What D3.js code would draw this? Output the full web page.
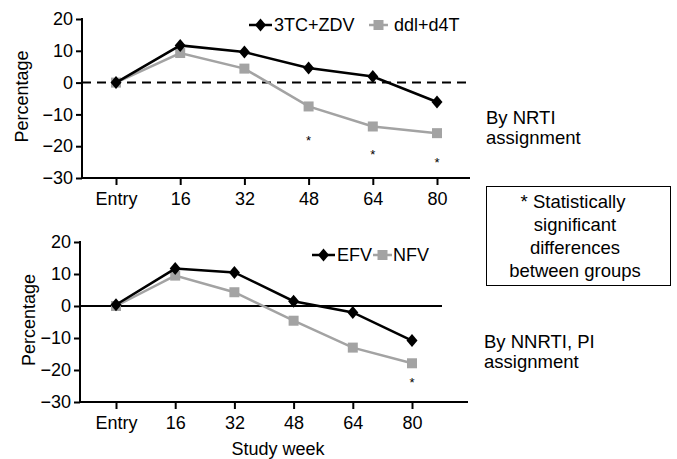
<!DOCTYPE html>
<html>
<head>
<meta charset="utf-8">
<script src="https://cdn.jsdelivr.net/npm/d3@7"></script>
<style>
  body { margin: 0; background: #fff; }
  svg text { font-family: "Liberation Sans", Arial, sans-serif; fill: #000; }
</style>
</head>
<body>
<svg id="chart" width="677" height="459"></svg>
<script>
// categories (study week)
var weeks = ['Entry', '16', '32', '48', '64', '80']
var yTicks = [20, 10, 0, -10, -20, -30]

// top panel: by NRTI assignment
var zdvValues = [0, 11.7, 9.6, 4.6, 1.9, -6.1]
var d4tValues = [0, 9.3, 4.4, -7.5, -13.8, -15.9]
var topStars = [['48', -16.8], ['64', -21.3], ['80', -23.6]]

// bottom panel: by NNRTI, PI assignment
var efvValues = [0.4, 11.7, 10.5, 1.5, -2.0, -10.8]
var nfvValues = [0, 9.5, 4.3, -4.6, -13.0, -17.9]
var bottomStars = [['80', -22.6]]

var black = '#000'
var grey = '#a3a3a3'
var fs = '18px'
var svg = d3.select('#chart')

function drawPanel (p) {
  var g = svg.append('g')
  var x = d3.scalePoint().domain(weeks).range(p.xRange)
  var y = d3.scaleLinear().domain([-30, 20]).range([p.yBottom, p.yTop])

  // y axis
  var yAxis = g.append('g')
      .attr('transform', 'translate(' + p.axisX + ',0)')
      .call(d3.axisLeft(y).tickValues(yTicks).tickSize(6).tickSizeOuter(0).tickPadding(3))
  yAxis.select('.domain').remove()
  yAxis.selectAll('line').attr('stroke-width', 2)
  yAxis.selectAll('text').style('font-size', fs)
  g.append('line')
      .attr('x1', p.axisX).attr('x2', p.axisX)
      .attr('y1', p.yTop - 1).attr('y2', p.yBottom + 1)
      .attr('stroke', black).attr('stroke-width', 2)

  // x axis
  var xAxis = g.append('g')
      .attr('transform', 'translate(0,' + p.yBottom + ')')
      .call(d3.axisBottom(x).tickSize(7).tickSizeOuter(0).tickPadding(7))
  xAxis.select('.domain').remove()
  xAxis.selectAll('line').attr('stroke-width', 2)
  xAxis.selectAll('text').style('font-size', fs)
  g.append('line')
      .attr('x1', p.axisX - 1).attr('x2', p.xEnd)
      .attr('y1', p.yBottom).attr('y2', p.yBottom)
      .attr('stroke', black).attr('stroke-width', 2)

  // zero line
  g.append('line')
      .attr('x1', p.axisX).attr('x2', p.zeroEnd)
      .attr('y1', y(0)).attr('y2', y(0))
      .attr('stroke', black).attr('stroke-width', 2)
      .attr('stroke-dasharray', p.dashed ? '9,6' : null)

  // axis title
  g.append('text')
      .attr('transform', 'translate(' + p.titleX + ',' + (y(-5) - 2) + ') rotate(-90)')
      .attr('text-anchor', 'middle')
      .attr('dy', '0.35em')
      .style('font-size', fs)
      .text('Percentage')

  var line = d3.line()
      .x(function (d, i) { return x(weeks[i]) })
      .y(function (d) { return y(d) })

  // grey series first, black on top
  g.append('path').datum(p.greyValues)
      .attr('d', line).attr('fill', 'none')
      .attr('stroke', grey).attr('stroke-width', 2.5)
  g.selectAll('.sq').data(p.greyValues).enter().append('rect')
      .attr('x', function (d, i) { return x(weeks[i]) - 5 })
      .attr('y', function (d) { return y(d) - 5 })
      .attr('width', 10).attr('height', 10)
      .attr('fill', grey)

  g.append('path').datum(p.blackValues)
      .attr('d', line).attr('fill', 'none')
      .attr('stroke', black).attr('stroke-width', 2.5)
  g.selectAll('.dm').data(p.blackValues).enter().append('path')
      .attr('d', 'M0,-6.5L5.5,0L0,6.5L-5.5,0Z')
      .attr('transform', function (d, i) { return 'translate(' + x(weeks[i]) + ',' + y(d) + ')' })
      .attr('fill', black)

  // significance stars
  g.selectAll('.star').data(p.stars).enter().append('text')
      .attr('x', function (d) { return x(d[0]) })
      .attr('y', function (d) { return y(d[1]) })
      .attr('text-anchor', 'middle')
      .attr('dy', '0.7em')
      .style('font-size', '13px')
      .text('*')

  // legend
  var lg = g.append('g').attr('transform', 'translate(0,' + p.legendY + ')')
  lg.append('line').attr('x1', p.leg[0]).attr('x2', p.leg[1])
      .attr('stroke', black).attr('stroke-width', 2.5)
  lg.append('path').attr('d', 'M0,-6.5L5.5,0L0,6.5L-5.5,0Z')
      .attr('transform', 'translate(' + ((p.leg[0] + p.leg[1]) / 2) + ',0)')
      .attr('fill', black)
  lg.append('text').attr('x', p.leg[2]).attr('dy', '0.36em')
      .style('font-size', fs).text(p.names[0])
  lg.append('line').attr('x1', p.leg[3]).attr('x2', p.leg[4])
      .attr('stroke', grey).attr('stroke-width', 2.5)
  lg.append('rect').attr('x', (p.leg[3] + p.leg[4]) / 2 - 5).attr('y', -5)
      .attr('width', 10).attr('height', 10).attr('fill', grey)
  lg.append('text').attr('x', p.leg[5]).attr('dy', '0.36em')
      .style('font-size', fs).text(p.names[1])
}

drawPanel({
  xRange: [116, 437], yTop: 19, yBottom: 178, axisX: 82, xEnd: 470, zeroEnd: 470,
  dashed: true, titleX: 22, blackValues: zdvValues, greyValues: d4tValues,
  stars: topStars, legendY: 25, leg: [249, 272, 274, 369, 388, 394],
  names: ['3TC+ZDV', 'ddl+d4T']
})

drawPanel({
  xRange: [116, 412], yTop: 242, yBottom: 402, axisX: 80, xEnd: 468, zeroEnd: 442,
  dashed: false, titleX: 29, blackValues: efvValues, greyValues: nfvValues,
  stars: bottomStars, legendY: 255, leg: [312, 335, 337, 373, 392, 393],
  names: ['EFV', 'NFV']
})

svg.append('text').attr('x', 278).attr('y', 454.5)
    .attr('text-anchor', 'middle').style('font-size', fs).text('Study week')

// side notes
var notes = [
  { x: 486, y: 124, lines: ['By NRTI', 'assignment'] },
  { x: 484, y: 348, lines: ['By NNRTI, PI', 'assignment'] }
]
notes.forEach(function (n) {
  svg.append('text').attr('x', n.x).attr('y', n.y).style('font-size', '18.5px')
    .selectAll('tspan').data(n.lines).enter().append('tspan')
    .attr('x', n.x).attr('dy', function (d, i) { return i ? 20 : 0 })
    .text(function (d) { return d })
})

svg.append('rect').attr('x', 486.5).attr('y', 186.5).attr('width', 184).attr('height', 99)
    .attr('fill', 'none').attr('stroke', '#000').attr('stroke-width', 1)
var boxLines = ['* Statistically', 'significant', 'differences', 'between groups']
svg.append('text').attr('x', 576).attr('y', 208).attr('text-anchor', 'middle')
    .style('font-size', '18.5px')
    .selectAll('tspan').data(boxLines).enter().append('tspan')
    .attr('x', function (d, i) { return i ? 575 : 573 }).attr('dy', function (d, i) { return i ? 23 : 0 })
    .text(function (d) { return d })
</script>
</body>
</html>
